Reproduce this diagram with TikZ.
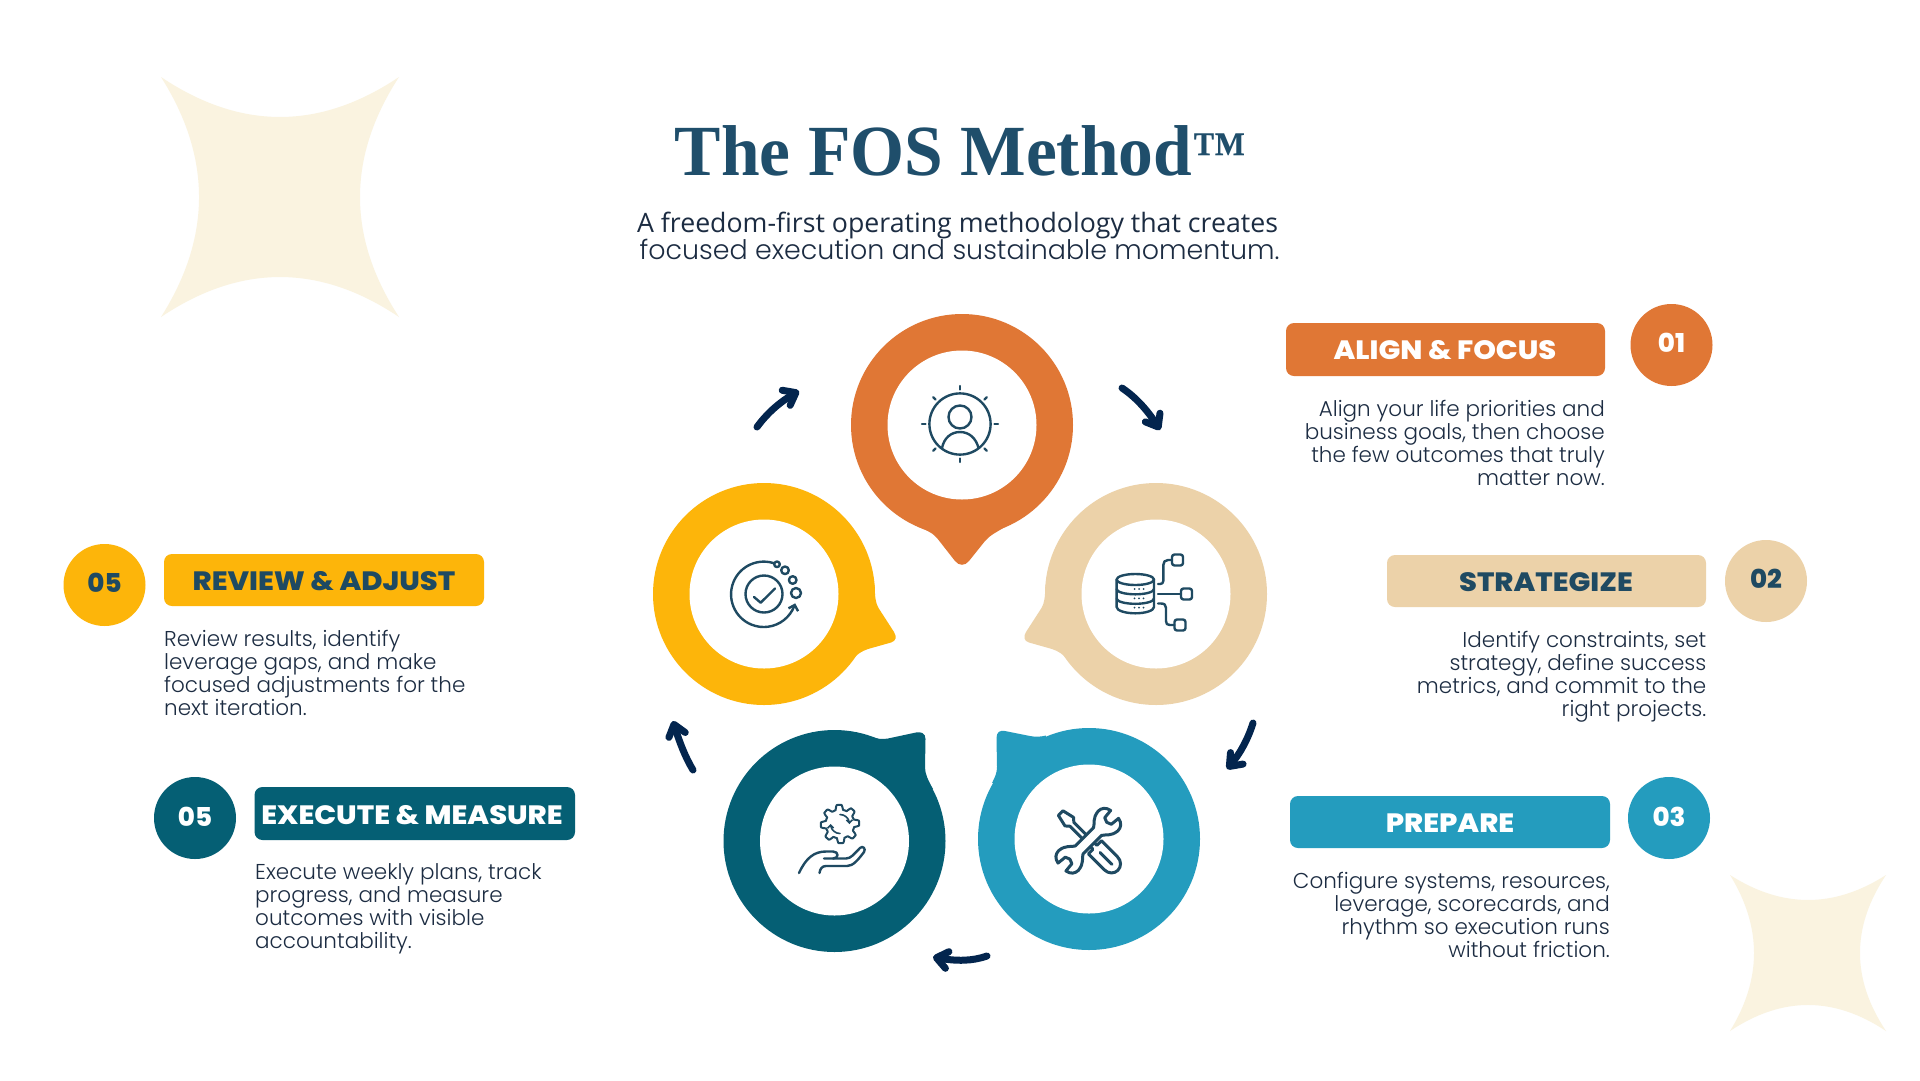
\documentclass[tikz,border=0pt]{standalone}
\usepackage{fontspec}
\usetikzlibrary{arrows.meta,bending}
\setmainfont{Poppins}
\newfontfamily\titlef[FakeStretch=0.965]{Liberation Serif}
\newfontfamily\subf{Open Sans}
\newfontfamily\headf[FakeStretch=1.09]{Poppins ExtraBold}
\newfontfamily\numf{Poppins ExtraBold}
\newfontfamily\lightf{Poppins Light}
\definecolor{cOrange}{HTML}{E07735}
\definecolor{cYellow}{HTML}{FDB50A}
\definecolor{cBeige}{HTML}{ECD2A9}
\definecolor{cTeal}{HTML}{055F74}
\definecolor{cBlue}{HTML}{249CBE}
\definecolor{cNavy}{HTML}{03254E}
\definecolor{cInk}{HTML}{1F4A62}
\definecolor{cBody}{HTML}{1C2C42}
\definecolor{cStar}{HTML}{FAF3E0}
\definecolor{cTitle}{HTML}{1F4E6B}
\tikzset{
  pill/.style={rounded corners=8pt,fill=#1},
  num/.style={circle,fill=#1,minimum size=82pt,inner sep=0pt},
  headtxt/.style={font=\headf\fontsize{26.5}{26.5}\selectfont,inner sep=0pt,anchor=base},
  numtxt/.style={font=\numf\fontsize{26}{26}\selectfont,inner sep=0pt,anchor=base},
  bodytxt/.style={font=\lightf\fontsize{21.5}{23}\selectfont,text=cBody,inner sep=0pt},
  hole/.style={circle,fill=white,minimum size=149pt,inner sep=0pt},
  icon/.style={draw=cInk,line width=2.4pt,line cap=round,line join=round},
  flow/.style={draw=cNavy,line width=7pt,line cap=round,-{Straight Barb[round,length=11pt,width=17pt]}},
}
\begin{document}
\begin{tikzpicture}[x=1pt,y=-1pt]
\useasboundingbox (0,0) rectangle (1920,1080);
\fill[white] (0,0) rectangle (1920,1080);
% decorative stars
\fill[cStar] (161,77) .. controls (240.3,130.3) and (319.7,130.3) .. (399,77)
  .. controls (347,157) and (347,237) .. (399,317)
  .. controls (319.7,263.7) and (240.3,263.7) .. (161,317)
  .. controls (211.7,237) and (211.7,157) .. (161,77) -- cycle;
\fill[cStar] (1730,875) .. controls (1782,908.3) and (1834,908.3) .. (1886,875)
  .. controls (1851.3,927) and (1851.3,979) .. (1886,1031)
  .. controls (1834,996.3) and (1782,996.3) .. (1730,1031)
  .. controls (1762,979) and (1762,927) .. (1730,875) -- cycle;
% title
\node[anchor=base,inner sep=0pt,text=cTitle,font=\titlef\bfseries\fontsize{72}{72}\selectfont] (title) at (960.5,175) {The FOS Method\raisebox{5pt}{\fontsize{56}{56}\selectfont ™}};
\node[anchor=base,inner sep=0pt,text=cBody,font=\subf\fontsize{26.7}{27}\selectfont] (sub1) at (957.5,232) {A freedom-first operating methodology that creates};
\node[anchor=base,inner sep=0pt,text=cBody,font=\lightf\fontsize{26.9}{27}\selectfont] (sub2) at (959.5,259) {focused execution and sustainable momentum.};
% rings
\fill[cOrange] (962,425) circle[radius=111];
\fill[cOrange] (915,525) .. controls (925,530) and (932,532) .. (937,538) -- (955,561) .. controls (959,566) and (965,566) .. (969,561) -- (985,541) .. controls (990,535) and (997,532) .. (1008,525) -- (962,480) -- cycle;
\node[hole] (r1) at (962,425) {};
\fill[cYellow] (764,594) circle[radius=111];
\fill[cYellow] (874.5,585) .. controls (875,597) and (875.5,603) .. (878.5,608) -- (894,632) .. controls (897,637) and (896,641) .. (891,642.5) -- (868,649) .. controls (862,651) and (857,654) .. (852,660) -- (820,600) -- cycle;
\node[hole] (r5) at (764,594) {};
\fill[cBeige] (1156,594) circle[radius=111];
\fill[cBeige] (1045.5,585) .. controls (1045,597) and (1044.5,603) .. (1041.5,608) -- (1026,632) .. controls (1023,637) and (1024,641) .. (1029,642.5) -- (1052,649) .. controls (1058,651) and (1063,654) .. (1068,660) -- (1100,600) -- cycle;
\node[hole] (r2) at (1156,594) {};
\fill[cTeal] (834.5,841) circle[radius=111];
\fill[cTeal] (872,737) .. controls (878,739) and (882,739.5) .. (888,738.5) -- (916,732.5) .. controls (921,731.5) and (925.5,733) .. (925.5,739) -- (925,767) .. controls (925,774) and (928,780) .. (933,789) -- (880,790) -- cycle;
\node[hole] (r4) at (834.5,841) {};
\fill[cBlue] (1089,839) circle[radius=111];
\fill[cBlue] (1046,735.5) .. controls (1040,737) and (1035,737) .. (1030,736) -- (1005,731) .. controls (1000,730) and (996.5,732) .. (996.5,738) -- (997,767) .. controls (997,773) and (995,777) .. (992,783) -- (1040,790) -- cycle;
\node[hole] (r3) at (1089,839) {};
% flow arrows
\coordinate (a1s) at (1122,388); \coordinate (a1e) at (1160,430);
\coordinate (a2s) at (1253,723); \coordinate (a2e) at (1227,769);
\coordinate (a3s) at (987,956); \coordinate (a3e) at (933,957);
\coordinate (a4s) at (693,770); \coordinate (a4e) at (673,721);
\coordinate (a5s) at (757,427); \coordinate (a5e) at (799,391);
\draw[flow] (a1s) .. controls (1137,398) and (1150,413) .. (a1e);
\draw[flow] (a2s) .. controls (1247,742) and (1238,757) .. (a2e);
\draw[flow] (a3s) .. controls (970,962) and (952,961) .. (a3e);
\draw[flow] (a4s) .. controls (684,755) and (678,738) .. (a4e);
\draw[flow] (a5s) .. controls (768,412) and (782,400) .. (a5e);
% icon 1: person in sun
\draw[icon] (960,424) circle[radius=30.6];
\draw[icon] (960,417) circle[radius=11.5];
\draw[icon] (942,448) .. controls (944,438) and (951,432) .. (960,432) .. controls (969,432) and (976,438) .. (978.5,448);
\foreach \a in {0,45,...,315}{
  \draw[icon] ({960+34.5*cos(\a)},{424+34.5*sin(\a)}) -- ({960+38*cos(\a)},{424+38*sin(\a)});
}
% icon 2: database
\draw[icon] (1135.3,579.5) ellipse[x radius=18.7,y radius=5.5];
\draw[icon] (1116.6,579.5) -- (1116.6,607) .. controls (1116.6,610.5) and (1125,613.3) .. (1135.3,613.3) .. controls (1145.6,613.3) and (1154,610.5) .. (1154,607) -- (1154,579.5);
\draw[icon] (1116.6,589) .. controls (1116.6,592) and (1125,594.3) .. (1135.3,594.3) .. controls (1145.6,594.3) and (1154,592) .. (1154,589);
\draw[icon] (1116.6,598.5) .. controls (1116.6,601.5) and (1125,603.8) .. (1135.3,603.8) .. controls (1145.6,603.8) and (1154,601.5) .. (1154,598.5);
\foreach \yy in {589,598.3,607.7}{
  \foreach \xx in {1134.5,1139,1143.5}{
    \fill[cInk] (\xx,\yy) circle[radius=1];
  }
}
\draw[icon] (1158,584) -- (1160,584) .. controls (1162,584) and (1163.3,583) .. (1163.3,581) -- (1163.3,565) .. controls (1163.3,562) and (1165,560) .. (1168,560) -- (1172,560);
\draw[icon,rounded corners=2.5pt] (1172,554.5) rectangle (1183,565.5);
\draw[icon] (1158,594) -- (1181,594);
\draw[icon,rounded corners=2.5pt] (1181,588.5) rectangle (1192,599.5);
\draw[icon] (1158,603.5) -- (1161,603.5) .. controls (1164.5,603.5) and (1166,605) .. (1166,608) -- (1166,621) .. controls (1166,624) and (1167,625) .. (1170,625) -- (1174.5,625);
\draw[icon,rounded corners=2.5pt] (1174.5,619.5) rectangle (1185.5,630.5);
% icon 3: cycle check
\draw[icon,-{Straight Barb[length=5pt,width=10pt]}] (776,564) arc[start angle=-68,end angle=-344,radius=32.7];
\draw[icon] (764,594) circle[radius=18.5];
\draw[icon] (754,597) -- (760.7,602.7) -- (775,588.5);
\draw[icon,fill=white] (777,564.3) circle[radius=2.8];
\draw[icon] (785,570.3) circle[radius=3.8];
\draw[icon] (792.7,580) circle[radius=3.8];
\draw[icon] (796,593) circle[radius=5];
% icon 4: gear and hand
\draw[icon,line width=2pt] plot[domain=0:360,samples=145,smooth] ({840+(16.8+2.4*max(min(2*cos(8*\x+22.5),1),-1))*cos(\x)},{824+(16.8+2.4*max(min(2*cos(8*\x+22.5),1),-1))*sin(\x)}) -- cycle;
\draw[icon,line width=1.6pt,-{Straight Barb[length=3pt,width=6pt]}] (840,814.5) arc[start angle=-90,end angle=0,radius=9.5];
\draw[icon,line width=1.6pt,-{Straight Barb[length=3pt,width=6pt]}] (840,833.5) arc[start angle=90,end angle=180,radius=9.5];
\draw[icon] (799,873) .. controls (806,858) and (814,851.5) .. (826,851.5) -- (833,851.5) .. controls (839,851.5) and (839,858.5) .. (833,858.5) -- (824,858.5);
\draw[icon] (833,858.5) -- (846,858.5) .. controls (851,858.5) and (854,854) .. (860,848) .. controls (863,845) and (866,849) .. (864,852) .. controls (858,860) and (853,866) .. (847,866) -- (826,866) .. controls (822,866) and (820,869) .. (819.5,873);
% icon 5: tools
\begin{scope}[shift={(1088.3,840.7)},rotate=-45,scale=.93]
\draw[icon,fill=white,line width=3pt] (-42,-3.5) -- (-42,3.5) -- (-29,6.5) -- (-25,3) -- (10,3) -- (10,10) -- (34,10) .. controls (41,10) and (45,5) .. (45,0) .. controls (45,-5) and (41,-10) .. (34,-10) -- (10,-10) -- (10,-3) -- (-25,-3) -- (-29,-6.5) -- cycle;
\draw[icon,line width=3pt] (18,0) -- (36,0);
\end{scope}
\begin{scope}[shift={(1088.3,840.7)},rotate=45,scale=.93]
\draw[icon,fill=white,line width=3pt] (-14,-6) -- (14,-6) .. controls (18,-8) and (20,-14) .. (30,-15) .. controls (35,-15) and (39,-12) .. (40,-6) -- (30,-5) -- (28,0) -- (30,5) -- (40,6) .. controls (39,12) and (35,15) .. (30,15) .. controls (20,14) and (18,8) .. (14,6) -- (-14,6) .. controls (-18,8) and (-20,14) .. (-30,15) .. controls (-35,15) and (-39,12) .. (-40,6) -- (-30,5) -- (-28,0) -- (-30,-5) -- (-40,-6) .. controls (-39,-12) and (-35,-15) .. (-30,-15) .. controls (-20,-14) and (-18,-8) .. (-14,-6) -- cycle;
\end{scope}
% pills & numbers
\fill[pill=cOrange] (1286,323) rectangle (1605,376);
\node[headtxt,text=white] (h1) at (1445,359) {ALIGN \& FOCUS};
\node[num=cOrange] (n1) at (1671.5,345) {};
\node[numtxt,text=white] (t1) at (1671.5,352) {01};
\fill[pill=cBeige] (1387,555) rectangle (1706,607);
\node[headtxt,text=cInk] (h2) at (1546,591) {STRATEGIZE};
\node[num=cBeige] (n2) at (1766,581) {};
\node[numtxt,text=cInk] (t2) at (1766,588) {02};
\fill[pill=cBlue] (1290,796) rectangle (1610,848);
\node[headtxt,text=white] (h3) at (1450,832) {PREPARE};
\node[num=cBlue] (n3) at (1669,818) {};
\node[numtxt,text=white] (t3) at (1669,826) {03};
\fill[pill=cYellow] (164,554) rectangle (484,606);
\node[headtxt,text=cInk] (h5) at (324,590) {REVIEW \& ADJUST};
\node[num=cYellow] (n5) at (104.5,585) {};
\node[numtxt,text=cInk] (t5) at (104.5,592) {05};
\fill[pill=cTeal] (254.5,787) rectangle (575,840);
\node[headtxt,text=white] (h4) at (412,824) {EXECUTE \& MEASURE};
\node[num=cTeal] (n4) at (195,818) {};
\node[numtxt,text=white] (t4) at (195,826) {05};
% body text
\node[bodytxt,anchor=base east,align=right] (b1) at (1605,485) {Align your life priorities and\\business goals, then choose\\the few outcomes that truly\\matter now.};
\node[bodytxt,anchor=base east,align=right] (b2) at (1706.5,716) {Identify constraints, set\\strategy, define success\\metrics, and commit to the\\right projects.};
\node[bodytxt,anchor=base east,align=right] (b3) at (1610,957) {Configure systems, resources,\\leverage, scorecards, and\\rhythm so execution runs\\without friction.};
\node[bodytxt,anchor=base west,align=left] (b5) at (164,715) {Review results, identify\\leverage gaps, and make\\focused adjustments for the\\next iteration.};
\node[bodytxt,anchor=base west,align=left] (b4) at (255,948) {Execute weekly plans, track\\progress, and measure\\outcomes with visible\\accountability.};
\end{tikzpicture}
\end{document}
